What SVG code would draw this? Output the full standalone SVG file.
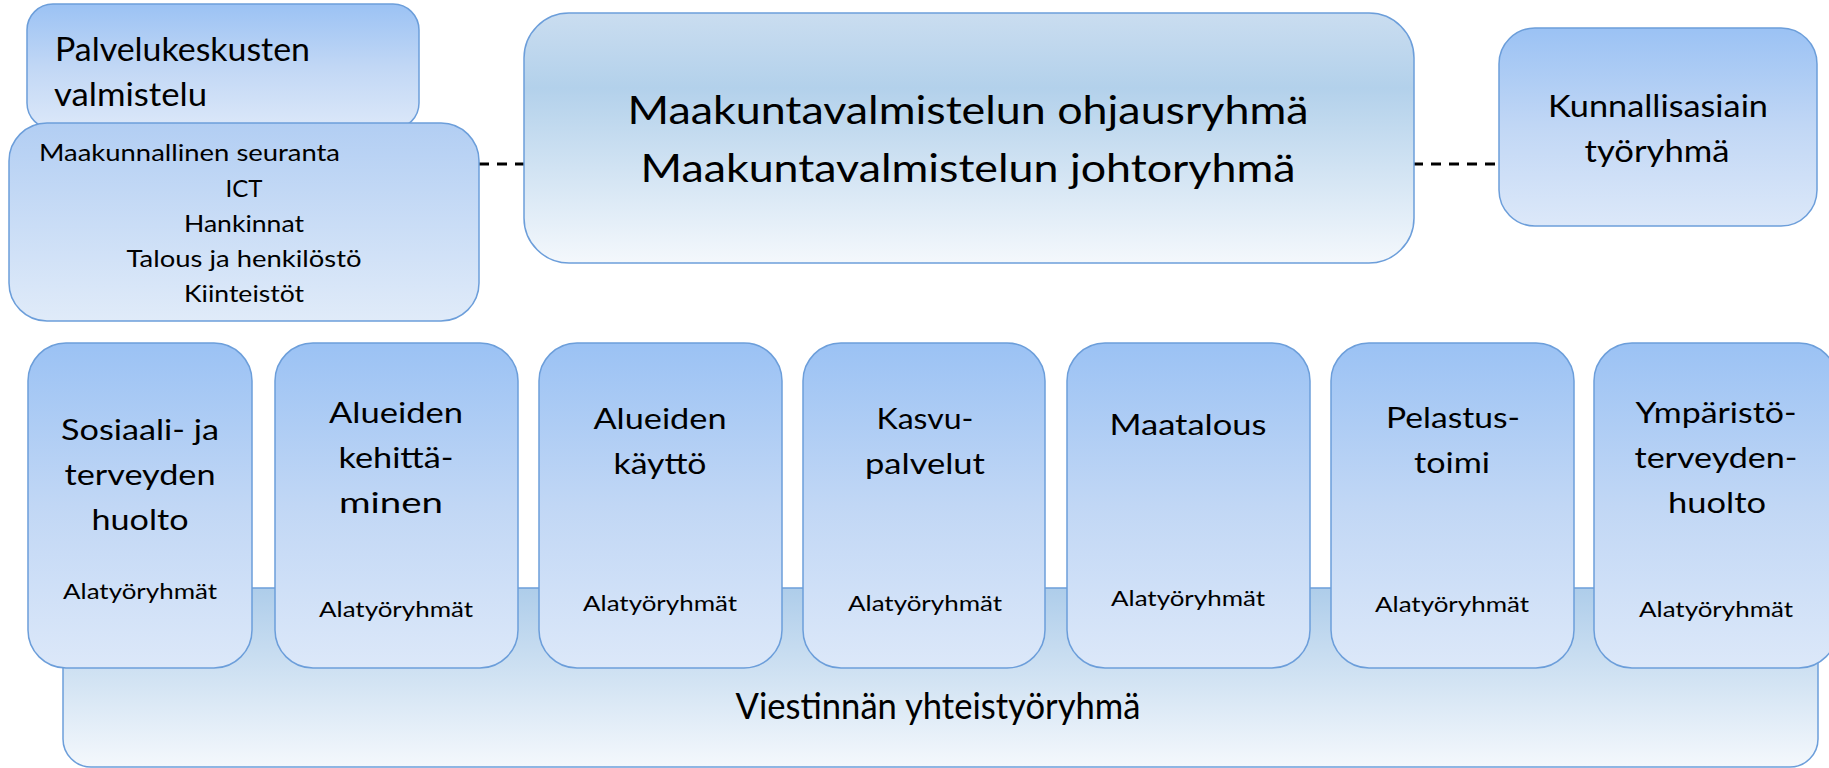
<svg xmlns="http://www.w3.org/2000/svg" width="1829" height="768" viewBox="0 0 1829 768">
<defs>
<linearGradient id="gBox" x1="0" y1="0" x2="0" y2="1">
<stop offset="0" stop-color="#9BC2F4"/>
<stop offset="0.5" stop-color="#C1D7F5"/>
<stop offset="1" stop-color="#DCE8F9"/>
</linearGradient>
<linearGradient id="gSub" x1="0" y1="0" x2="0" y2="1">
<stop offset="0" stop-color="#B2CEF3"/>
<stop offset="1" stop-color="#E0EBF9"/>
</linearGradient>
<linearGradient id="gMain" x1="0" y1="0" x2="0" y2="1">
<stop offset="0" stop-color="#CADDF0"/>
<stop offset="0.3" stop-color="#B3D1EB"/>
<stop offset="1" stop-color="#F4F8FC"/>
</linearGradient>
<linearGradient id="gBan" x1="0" y1="0" x2="0" y2="1">
<stop offset="0" stop-color="#AECDEA"/>
<stop offset="1" stop-color="#F4F8FC"/>
</linearGradient>
</defs>
<style>
.box{fill:url(#gBox);stroke:#6C9EDA;stroke-width:1.5}
.t{font-family:Lato,"Noto Sans",sans-serif;fill:#000}
.m{text-anchor:middle}
.h{font-size:29px}
.s{font-size:22px}
.dash{stroke:#000;stroke-width:3;stroke-dasharray:10 8;fill:none}
</style>

<g id="connectors">
<line class="dash" x1="479" y1="164" x2="524" y2="164"/>
<line class="dash" x1="1413" y1="164" x2="1499" y2="164"/>
</g>

<g id="viestinta">
<rect x="63" y="588" width="1755" height="179" rx="28" fill="url(#gBan)" stroke="#6C9EDA" stroke-width="1.5"/>
<text class="t m" x="938" y="719" font-size="37" textLength="405" lengthAdjust="spacingAndGlyphs">Viestinnän yhteistyöryhmä</text>
</g>

<g id="palvelukeskusten">
<rect class="box" x="27" y="4" width="392" height="125" rx="26"/>
<text class="t" x="55" y="61" font-size="32" textLength="255" lengthAdjust="spacingAndGlyphs">Palvelukeskusten</text>
<text class="t" x="54" y="106" font-size="32" textLength="153" lengthAdjust="spacingAndGlyphs">valmistelu</text>
</g>

<g id="tukipalvelut">
<rect x="9" y="123" width="470" height="198" rx="38" fill="url(#gSub)" stroke="#6C9EDA" stroke-width="1.5"/>
<text class="t" x="39" y="161" font-size="24" textLength="301" lengthAdjust="spacingAndGlyphs">Maakunnallinen seuranta</text>
<text class="t m" x="244" y="197" font-size="24">ICT</text>
<text class="t m" x="244" y="232" font-size="24" textLength="120" lengthAdjust="spacingAndGlyphs">Hankinnat</text>
<text class="t m" x="244" y="267" font-size="24" textLength="235" lengthAdjust="spacingAndGlyphs">Talous ja henkilöstö</text>
<text class="t m" x="244" y="302" font-size="24" textLength="120" lengthAdjust="spacingAndGlyphs">Kiinteistöt</text>
</g>

<g id="ohjausryhma">
<rect x="524" y="13" width="890" height="250" rx="45" fill="url(#gMain)" stroke="#6C9EDA" stroke-width="1.5"/>
<text class="t m" x="968" y="124" font-size="38" textLength="681" lengthAdjust="spacingAndGlyphs">Maakuntavalmistelun ohjausryhmä</text>
<text class="t m" x="968" y="182" font-size="38" textLength="655" lengthAdjust="spacingAndGlyphs">Maakuntavalmistelun johtoryhmä</text>
</g>

<g id="kunnallisasiain">
<rect class="box" x="1499" y="28" width="318" height="198" rx="36"/>
<text class="t m" x="1658" y="117" font-size="30" textLength="220" lengthAdjust="spacingAndGlyphs">Kunnallisasiain</text>
<text class="t m" x="1657" y="162" font-size="30" textLength="145" lengthAdjust="spacingAndGlyphs">työryhmä</text>
</g>

<g id="sote">
<rect class="box" x="28" y="343" width="224" height="325" rx="38"/>
<text class="t m h" x="140" y="440" textLength="158" lengthAdjust="spacingAndGlyphs">Sosiaali- ja</text>
<text class="t m h" x="140" y="485" textLength="151" lengthAdjust="spacingAndGlyphs">terveyden</text>
<text class="t m h" x="140" y="530" textLength="97" lengthAdjust="spacingAndGlyphs">huolto</text>
<text class="t m s" x="140" y="599" textLength="154" lengthAdjust="spacingAndGlyphs">Alatyöryhmät</text>
</g>

<g id="alueiden-kehittaminen">
<rect class="box" x="275" y="343" width="243" height="325" rx="38"/>
<text class="t m h" x="396" y="423" textLength="134" lengthAdjust="spacingAndGlyphs">Alueiden</text>
<text class="t m h" x="396" y="468" textLength="115" lengthAdjust="spacingAndGlyphs">kehittä-</text>
<text class="t m h" x="391" y="513" textLength="104" lengthAdjust="spacingAndGlyphs">minen</text>
<text class="t m s" x="396" y="617" textLength="154" lengthAdjust="spacingAndGlyphs">Alatyöryhmät</text>
</g>

<g id="alueiden-kaytto">
<rect class="box" x="539" y="343" width="243" height="325" rx="38"/>
<text class="t m h" x="660" y="429" textLength="133" lengthAdjust="spacingAndGlyphs">Alueiden</text>
<text class="t m h" x="660" y="474" textLength="93" lengthAdjust="spacingAndGlyphs">käyttö</text>
<text class="t m s" x="660" y="611" textLength="154" lengthAdjust="spacingAndGlyphs">Alatyöryhmät</text>
</g>

<g id="kasvupalvelut">
<rect class="box" x="803" y="343" width="242" height="325" rx="38"/>
<text class="t m h" x="925" y="429" textLength="97" lengthAdjust="spacingAndGlyphs">Kasvu-</text>
<text class="t m h" x="925" y="474" textLength="120" lengthAdjust="spacingAndGlyphs">palvelut</text>
<text class="t m s" x="925" y="611" textLength="154" lengthAdjust="spacingAndGlyphs">Alatyöryhmät</text>
</g>

<g id="maatalous">
<rect class="box" x="1067" y="343" width="243" height="325" rx="38"/>
<text class="t m h" x="1188" y="435" textLength="157" lengthAdjust="spacingAndGlyphs">Maatalous</text>
<text class="t m s" x="1188" y="606" textLength="154" lengthAdjust="spacingAndGlyphs">Alatyöryhmät</text>
</g>

<g id="pelastustoimi">
<rect class="box" x="1331" y="343" width="243" height="325" rx="38"/>
<text class="t m h" x="1453" y="428" textLength="134" lengthAdjust="spacingAndGlyphs">Pelastus-</text>
<text class="t m h" x="1452" y="473" textLength="76" lengthAdjust="spacingAndGlyphs">toimi</text>
<text class="t m s" x="1452" y="612" textLength="154" lengthAdjust="spacingAndGlyphs">Alatyöryhmät</text>
</g>

<g id="ymparistoterveydenhuolto">
<rect class="box" x="1594" y="343" width="243" height="325" rx="38"/>
<text class="t m h" x="1716" y="423" textLength="161" lengthAdjust="spacingAndGlyphs">Ympäristö-</text>
<text class="t m h" x="1716" y="468" textLength="163" lengthAdjust="spacingAndGlyphs">terveyden-</text>
<text class="t m h" x="1717" y="513" textLength="98" lengthAdjust="spacingAndGlyphs">huolto</text>
<text class="t m s" x="1716" y="617" textLength="154" lengthAdjust="spacingAndGlyphs">Alatyöryhmät</text>
</g>
</svg>
